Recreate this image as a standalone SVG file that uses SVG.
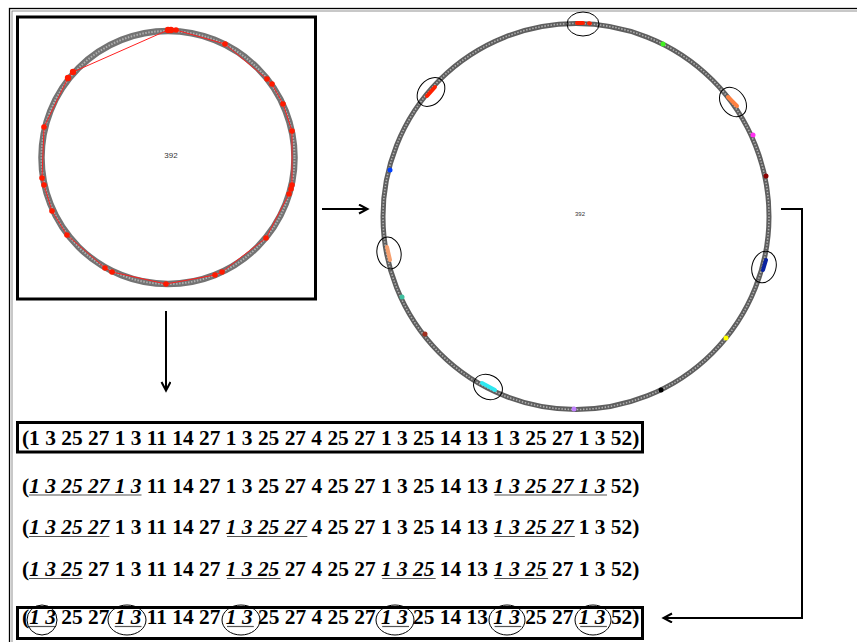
<svg xmlns="http://www.w3.org/2000/svg" width="857" height="642" viewBox="0 0 857 642">
<defs>
<marker id="arr" markerWidth="12" markerHeight="12" refX="9" refY="5" orient="auto" markerUnits="userSpaceOnUse">
<path d="M1,0.5 L9.5,5 L1,9.5" fill="none" stroke="#000" stroke-width="2"/>
</marker>
</defs>
<style>
.row{font-family:"Liberation Serif","Times New Roman",serif;font-weight:bold;font-size:21.4px;fill:#000}
.it{font-style:italic}
.ul{stroke:#555;stroke-width:1.2}
.box{fill:none;stroke:#000;stroke-width:3}
.ell{fill:none;stroke:#000;stroke-width:1}
.conn{fill:none;stroke:#000;stroke-width:2}
.lbl{font-family:"Liberation Sans",Arial,sans-serif;fill:#333}
.rp{fill:#ff1a00}
</style>
<rect x="9.5" y="8.5" width="900" height="700" fill="none" stroke="#000" stroke-width="1.3"/>
<rect x="12" y="11" width="900" height="700" fill="none" stroke="#777" stroke-width="0.8"/>

<g id="left-panel">
<rect class="box" x="17.5" y="17" width="298" height="282"/>
<circle cx="168" cy="157.5" r="126.5" fill="none" stroke="#737373" stroke-width="6.5"/>
<circle cx="168" cy="157.5" r="126.5" fill="none" stroke="#b0b0b0" stroke-width="2" stroke-dasharray="1.5 1.5"/>
<polygon points="176,30 225,44 267,79 272,84 283,104 292,131 292,185 291,188 289,194 266,238 222,272 215,275 166,284 112,272 105,268 67,235 52,211 44,185 42,178 44,127 68,78 73,72 168,30 170,30" fill="none" stroke="#ff2020" stroke-width="1"/>
<g class="rp">
<circle cx="168" cy="30" r="3.2"/><circle cx="171" cy="30" r="3.2"/><circle cx="176" cy="30" r="2.8"/>
<circle cx="225" cy="44" r="2.8"/><circle cx="267" cy="79" r="2.8"/><circle cx="272" cy="84" r="2.8"/>
<circle cx="283" cy="104" r="2.8"/><circle cx="292" cy="131" r="2.8"/><circle cx="292" cy="185" r="2.8"/>
<circle cx="291" cy="189" r="2.8"/><circle cx="289" cy="194" r="2.8"/><circle cx="266" cy="238" r="2.8"/>
<circle cx="222" cy="272" r="2.8"/><circle cx="215" cy="275" r="2.8"/><circle cx="166" cy="284" r="2.8"/>
<circle cx="112" cy="272" r="2.8"/><circle cx="105" cy="268" r="2.8"/><circle cx="67" cy="235" r="2.8"/>
<circle cx="52" cy="211" r="2.8"/><circle cx="44" cy="185" r="2.8"/><circle cx="42" cy="178" r="2.8"/>
<circle cx="44" cy="127" r="2.8"/><circle cx="68" cy="78" r="3.2"/><circle cx="73" cy="72" r="3.2"/>
</g>
<text class="lbl" x="171" y="158" font-size="8" text-anchor="middle">392</text>
</g>

<g id="right-panel">
<circle cx="576" cy="216.5" r="193" fill="none" stroke="#5e5e5e" stroke-width="5"/>
<circle cx="576" cy="216.5" r="193" fill="none" stroke="#b0b0b0" stroke-width="1.6" stroke-dasharray="1.5 1.6"/>
<g stroke-linecap="round" stroke-width="4" fill="none">
<line x1="577" y1="23" x2="583" y2="23" stroke="#ff2000"/>
<line x1="589" y1="23.3" x2="590" y2="23.4" stroke="#ff2000"/>
<line x1="427" y1="96" x2="435" y2="87" stroke="#ff2000"/>
<line x1="728" y1="97" x2="737" y2="106" stroke="#ff8040"/>
<line x1="387" y1="247" x2="390" y2="260" stroke="#f5a070"/>
<line x1="482" y1="383" x2="495" y2="390" stroke="#30e8f0"/>
<line x1="763" y1="270" x2="766" y2="260" stroke="#0a22a0"/>
</g>
<g>
<circle cx="663" cy="44" r="2.5" fill="#40f020"/>
<circle cx="753" cy="135" r="2.5" fill="#ff30f0"/>
<circle cx="766" cy="176" r="2.5" fill="#8b0000"/>
<circle cx="390" cy="170" r="2.5" fill="#0040ff"/>
<circle cx="402" cy="297" r="2.5" fill="#40c0a0"/>
<circle cx="425" cy="334" r="2.5" fill="#a03020"/>
<circle cx="574" cy="409" r="2.5" fill="#c080ff"/>
<circle cx="661" cy="390" r="2.5" fill="#000"/>
<circle cx="726" cy="338" r="2.5" fill="#ffff00"/>
</g>
<ellipse class="ell" cx="583" cy="24" rx="16" ry="12"/>
<ellipse class="ell" cx="431" cy="92" rx="16" ry="12" transform="rotate(-49 431 92)"/>
<ellipse class="ell" cx="733" cy="102" rx="16" ry="12" transform="rotate(54 733 102)"/>
<ellipse class="ell" cx="389" cy="253" rx="16" ry="12" transform="rotate(79 389 253)"/>
<ellipse class="ell" cx="764" cy="267" rx="16" ry="12" transform="rotate(105 764 267)"/>
<ellipse class="ell" cx="488" cy="387" rx="15" ry="12" transform="rotate(27 488 387)"/>
<text class="lbl" x="580" y="216" font-size="6" text-anchor="middle">392</text>
</g>

<g id="row1">
<rect class="box" x="17.5" y="422.5" width="625" height="29.5"/>
<text class="row" x="22" y="445">(1 3 25 27 1 3 11 14 27 1 3 25 27 4 25 27 1 3 25 14 13 1 3 25 27 1 3 52)</text>
</g>
<g id="row2">
<text class="row" x="22" y="492.5">(<tspan class="it">1 3 25 27 1 3</tspan> 11 14 27 1 3 25 27 4 25 27 1 3 25 14 13 <tspan class="it">1 3 25 27 1 3</tspan> 52)</text>
<line class="ul" x1="29" y1="495" x2="141.5" y2="495"/>
<line class="ul" x1="494.6" y1="495" x2="607" y2="495"/>
</g>
<g id="row3">
<text class="row" x="22" y="534">(<tspan class="it">1 3 25 27</tspan> 1 3 11 14 27 <tspan class="it">1 3 25 27</tspan> 4 25 27 1 3 25 14 13 <tspan class="it">1 3 25 27</tspan> 1 3 52)</text>
<line class="ul" x1="29" y1="536.5" x2="109.4" y2="536.5"/>
<line class="ul" x1="227" y1="536.5" x2="307.3" y2="536.5"/>
<line class="ul" x1="494.6" y1="536.5" x2="574.8" y2="536.5"/>
</g>
<g id="row4">
<text class="row" x="22" y="576">(<tspan class="it">1 3 25</tspan> 27 1 3 11 14 27 <tspan class="it">1 3 25</tspan> 27 4 25 27 <tspan class="it">1 3 25</tspan> 14 13 <tspan class="it">1 3 25</tspan> 27 1 3 52)</text>
<line class="ul" x1="29" y1="578.5" x2="82.6" y2="578.5"/>
<line class="ul" x1="227" y1="578.5" x2="280.6" y2="578.5"/>
<line class="ul" x1="382.2" y1="578.5" x2="435.7" y2="578.5"/>
<line class="ul" x1="494.6" y1="578.5" x2="548.1" y2="578.5"/>
</g>
<g id="row5">
<rect class="box" x="17.5" y="607.5" width="625" height="31"/>
<text class="row" x="22" y="624">(<tspan class="it">1 3</tspan> 25 27 <tspan class="it">1 3</tspan> 11 14 27 <tspan class="it">1 3</tspan> 25 27 4 25 27 <tspan class="it">1 3</tspan> 25 14 13 <tspan class="it">1 3</tspan> 25 27 <tspan class="it">1 3</tspan> 52)</text>
<line class="ul" x1="29" y1="626.5" x2="55.9" y2="626.5"/>
<line class="ul" x1="114.7" y1="626.5" x2="141.5" y2="626.5"/>
<line class="ul" x1="227" y1="626.5" x2="253.8" y2="626.5"/>
<line class="ul" x1="382.2" y1="626.5" x2="409" y2="626.5"/>
<line class="ul" x1="494.6" y1="626.5" x2="521.3" y2="626.5"/>
<line class="ul" x1="580.2" y1="626.5" x2="606.9" y2="626.5"/>
<ellipse class="ell" cx="42" cy="620" rx="15" ry="15"/>
<ellipse class="ell" cx="127" cy="620" rx="19" ry="15"/>
<ellipse class="ell" cx="241" cy="620" rx="19" ry="15"/>
<ellipse class="ell" cx="395" cy="620" rx="19" ry="15"/>
<ellipse class="ell" cx="507" cy="620" rx="18" ry="15"/>
<ellipse class="ell" cx="593" cy="620" rx="18" ry="15"/>
</g>

<g id="connectors">
<line class="conn" x1="322" y1="209" x2="367" y2="209" marker-end="url(#arr)"/>
<line class="conn" x1="166" y1="311" x2="166" y2="390" marker-end="url(#arr)"/>
<polyline class="conn" points="781,209 802,209 802,618 664,618" marker-end="url(#arr)"/>
</g>
</svg>
